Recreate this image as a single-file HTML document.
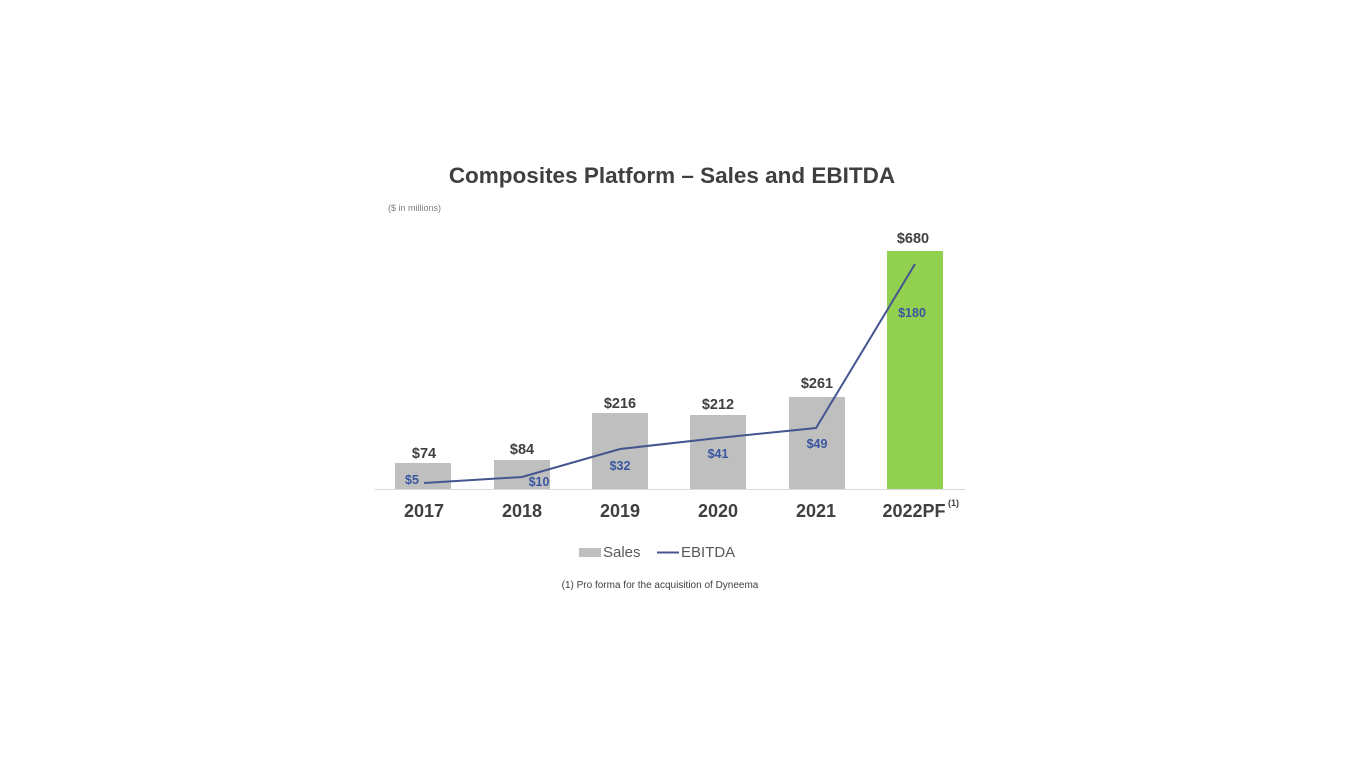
<!DOCTYPE html>
<html><head><style>
body{margin:0;background:#fff;}
svg{display:block;font-family:"Liberation Sans",Arial,sans-serif;}
</style></head><body>
<svg width="1366" height="768" viewBox="0 0 1366 768">
<rect width="1366" height="768" fill="#fff"/>
<text x="672" y="183" text-anchor="middle" font-size="22.5" font-weight="bold" fill="#3f3f3f">Composites Platform – Sales and EBITDA</text>
<text x="388" y="211" font-size="9" fill="#7f7f7f">($ in millions)</text>
<line x1="375" y1="489.5" x2="965" y2="489.5" stroke="#d9d9d9" stroke-width="1"/>
<g fill="#bfbfbf">
<rect x="395" y="463" width="56" height="26"/>
<rect x="494" y="460" width="56" height="29"/>
<rect x="592" y="413" width="56" height="76"/>
<rect x="690" y="415" width="56" height="74"/>
<rect x="789" y="397" width="56" height="92"/>
</g>
<rect x="887" y="251" width="56" height="238" fill="#92d050"/>
<polyline points="424,483 522,477 620,449 718,438 816,428 915,264" fill="none" stroke="#44558f" stroke-width="2"/>
<g font-size="14.5" font-weight="bold" fill="#404040" text-anchor="middle">
<text x="424" y="458">$74</text>
<text x="522" y="454">$84</text>
<text x="620" y="408">$216</text>
<text x="718" y="409">$212</text>
<text x="817" y="388">$261</text>
<text x="913" y="243">$680</text>
</g>
<g font-size="12.5" font-weight="bold" fill="#3a56a0" text-anchor="middle">
<text x="412" y="484">$5</text>
<text x="539" y="486">$10</text>
<text x="620" y="470">$32</text>
<text x="718" y="458">$41</text>
<text x="817" y="448">$49</text>
<text x="912" y="317">$180</text>
</g>
<g font-size="18" font-weight="bold" fill="#404040" text-anchor="middle">
<text x="424" y="517">2017</text>
<text x="522" y="517">2018</text>
<text x="620" y="517">2019</text>
<text x="718" y="517">2020</text>
<text x="816" y="517">2021</text>
<text x="914" y="517">2022PF</text>
</g>
<text x="948" y="506" font-size="9" font-weight="bold" fill="#404040">(1)</text>
<rect x="579" y="548" width="22" height="9" fill="#bfbfbf"/>
<text x="603" y="557" font-size="15" fill="#595959">Sales</text>
<line x1="657" y1="552.5" x2="679" y2="552.5" stroke="#44558f" stroke-width="2"/>
<text x="681" y="557" font-size="15" fill="#595959">EBITDA</text>
<text x="660" y="588" font-size="10" fill="#404040" text-anchor="middle">(1) Pro forma for the acquisition of Dyneema</text>
</svg>
</body></html>
